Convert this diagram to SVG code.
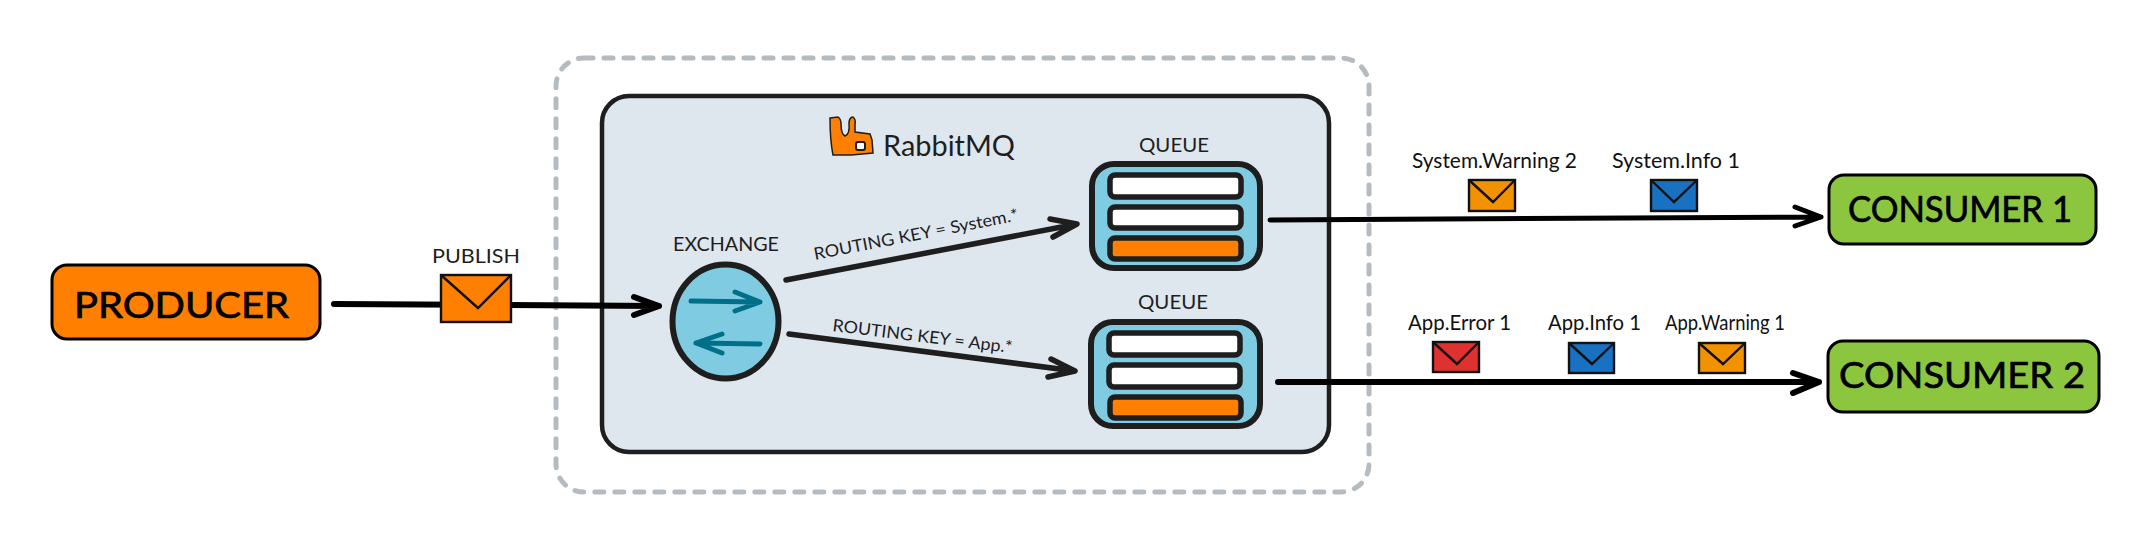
<svg xmlns="http://www.w3.org/2000/svg" width="2153" height="547" viewBox="0 0 2153 547">
  <style>
    text { font-family: "Lato", "Open Sans", sans-serif; fill: #1e1e1e; text-anchor: start; }
    .big { font-size: 36px; stroke: #000; stroke-width: 0.7; fill: #000; }
    .mid { font-size: 19px; }
    .route { font-size: 17px; }
    .msg { font-size: 21px; fill: #111; }
    .ink { fill: none; stroke: #000; stroke-linecap: round; stroke-linejoin: round; }
    .dark { fill: none; stroke: #1e1e1e; stroke-linecap: round; stroke-linejoin: round; stroke-width: 5.5; }
    .teal { fill: none; stroke: #00708a; stroke-linecap: round; stroke-linejoin: round; stroke-width: 5; }
    .env { stroke: #111; stroke-width: 2.4; }
    .flap { fill: none; stroke: #111; stroke-width: 2.4; }
    .blue { fill: #7fcbe2; stroke: #1e1e1e; stroke-width: 6; }
    .slot { stroke: #1e1e1e; stroke-width: 5.5; }
    .orange { fill: #ff7f00; }
    .green { fill: #8cc63f; stroke: #000; stroke-width: 3; }
  </style>

  <rect id="broker-boundary" x="556" y="58" width="813" height="434" rx="28" fill="none" stroke="#b4bbc1" stroke-width="5" stroke-dasharray="9 11" stroke-linecap="round"/>

  <g id="rabbitmq">
    <rect x="602" y="96" width="727" height="356" rx="27" fill="#dee6ee" stroke="#1e1e1e" stroke-width="4.5"/>
    <path d="M830 118 L838 117 Q841 119 841 124 Q841 134 845 136 Q850 134 849 124 Q849 117 853 117 Q856 119 855 125 L855 132 L870 134 L872 140 L873 153 L851 155 L833 155 Q830 140 830 118 Z" class="orange" stroke="#1e1e1e" stroke-width="1.5"/>
    <rect x="856" y="142" width="9" height="8" rx="2" fill="#fff" stroke="#1e1e1e" stroke-width="2"/>
    <text x="883" y="156" font-size="29" textLength="132" lengthAdjust="spacingAndGlyphs">RabbitMQ</text>
  </g>

  <g id="connectors">
    <path class="ink" stroke-width="6" d="M334 304 L659 306 M634 297 L659 306 L634 315"/>
    <path class="dark" d="M786 280 L1077 224 M1050 219 L1077 224 L1053 237"/>
    <path class="dark" d="M789 334 L1075 371 M1051 359 L1075 371 L1048 377"/>
    <path class="ink" stroke-width="5" d="M1270 220 L1821 217 M1795 207 L1821 217 L1795 226"/>
    <path class="ink" stroke-width="6" d="M1278 382 L1819 382 M1793 373 L1819 382 L1793 393"/>
    <text class="route" transform="translate(815 260) rotate(-11)" textLength="208" lengthAdjust="spacingAndGlyphs">ROUTING KEY = System.*</text>
    <text class="route" transform="translate(832 331) rotate(7)" textLength="181" lengthAdjust="spacingAndGlyphs">ROUTING KEY = App.*</text>
  </g>

  <g id="producer">
    <rect x="52" y="265" width="268" height="74" rx="15" class="orange" stroke="#000" stroke-width="3"/>
    <text class="big" x="74" y="318" textLength="215" lengthAdjust="spacingAndGlyphs">PRODUCER</text>
  </g>

  <g id="publish-message">
    <text class="mid" x="432" y="263" textLength="88" lengthAdjust="spacingAndGlyphs">PUBLISH</text>
    <rect class="env orange" x="441" y="275" width="70" height="47"/>
    <path class="flap" d="M441 275 L478 308 L511 275"/>
  </g>

  <g id="exchange">
    <text class="mid" x="673" y="251" textLength="106" lengthAdjust="spacingAndGlyphs">EXCHANGE</text>
    <ellipse class="blue" cx="725.5" cy="321.5" rx="53" ry="57"/>
    <path class="teal" d="M691 301 L760 302 M735 292 L760 302 L735 311"/>
    <path class="teal" stroke-width="6" d="M760 344 L696 343 M722 334 L696 343 L722 353"/>
  </g>

  <g id="queue-system">
    <text class="mid" x="1139" y="152" textLength="70" lengthAdjust="spacingAndGlyphs">QUEUE</text>
    <rect class="blue" x="1092" y="164" width="168" height="104" rx="22"/>
    <rect class="slot" x="1110" y="175" width="131" height="22" rx="5" fill="#fff"/>
    <rect class="slot" x="1110" y="207" width="131" height="21" rx="5" fill="#fff"/>
    <rect class="slot orange" x="1110" y="238" width="131" height="21" rx="5"/>
  </g>

  <g id="queue-app">
    <text class="mid" x="1138" y="309" textLength="70" lengthAdjust="spacingAndGlyphs">QUEUE</text>
    <rect class="blue" x="1091" y="322" width="169" height="104" rx="22"/>
    <rect class="slot" x="1109" y="333" width="131" height="22" rx="5" fill="#fff"/>
    <rect class="slot" x="1109" y="365" width="131" height="22" rx="5" fill="#fff"/>
    <rect class="slot orange" x="1110" y="397" width="131" height="21" rx="5"/>
  </g>

  <g id="message-system-warning">
    <text class="msg" x="1412" y="168" textLength="165" lengthAdjust="spacingAndGlyphs">System.Warning 2</text>
    <rect class="env" fill="#f39200" x="1469" y="180" width="46" height="31"/>
    <path class="flap" d="M1469 180 L1493 202 L1515 180"/>
  </g>
  <g id="message-system-info">
    <text class="msg" x="1612" y="168" textLength="128" lengthAdjust="spacingAndGlyphs">System.Info 1</text>
    <rect class="env" fill="#1971c2" x="1651" y="180" width="46" height="31"/>
    <path class="flap" d="M1651 180 L1674 202 L1697 180"/>
  </g>
  <g id="message-app-error">
    <text class="msg" x="1408" y="330" textLength="103" lengthAdjust="spacingAndGlyphs">App.Error 1</text>
    <rect class="env" fill="#e03131" x="1433" y="342" width="46" height="30"/>
    <path class="flap" d="M1433 342 L1457 364 L1479 342"/>
  </g>
  <g id="message-app-info">
    <text class="msg" x="1548" y="330" textLength="93" lengthAdjust="spacingAndGlyphs">App.Info 1</text>
    <rect class="env" fill="#1971c2" x="1569" y="343" width="45" height="30"/>
    <path class="flap" d="M1569 343 L1592 364 L1614 343"/>
  </g>
  <g id="message-app-warning">
    <text class="msg" x="1665" y="330" textLength="120" lengthAdjust="spacingAndGlyphs">App.Warning 1</text>
    <rect class="env" fill="#f39200" x="1699" y="343" width="46" height="30"/>
    <path class="flap" d="M1699 343 L1723 364 L1745 343"/>
  </g>

  <g id="consumer-1">
    <rect class="green" x="1829" y="175" width="267" height="69" rx="15"/>
    <text class="big" x="1848" y="222" textLength="224" lengthAdjust="spacingAndGlyphs">CONSUMER 1</text>
  </g>
  <g id="consumer-2">
    <rect class="green" x="1828" y="341" width="271" height="71" rx="15"/>
    <text class="big" x="1839" y="388" textLength="246" lengthAdjust="spacingAndGlyphs">CONSUMER 2</text>
  </g>
</svg>
